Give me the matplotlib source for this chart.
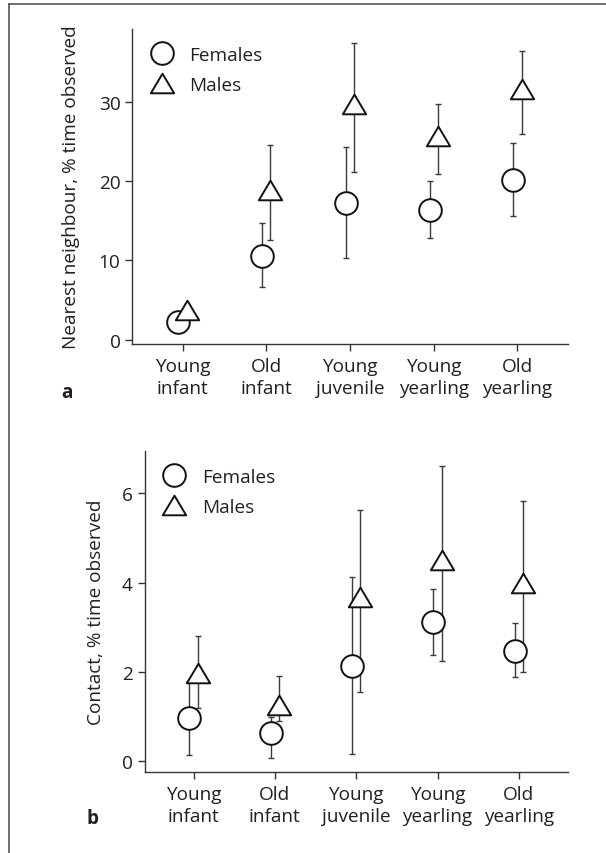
import matplotlib
matplotlib.use("Agg")
import matplotlib.pyplot as plt
from matplotlib.lines import Line2D
from matplotlib.path import Path
import numpy as np

# ---- data ----
categories = ["Young\ninfant", "Old\ninfant", "Young\njuvenile", "Young\nyearling", "Old\nyearling"]

nn_female = [2.2, 10.6, 17.3, 16.4, 20.2]
nn_female_lo = [1.5, 6.6, 10.3, 12.8, 15.6]
nn_female_hi = [2.8, 14.7, 24.3, 20.0, 24.8]
nn_male = [3.8, 18.9, 29.7, 25.7, 31.6]
nn_male_lo = [2.8, 12.6, 21.1, 20.9, 25.9]
nn_male_hi = [4.5, 24.6, 37.4, 29.8, 36.4]

contact_female = [0.98, 0.63, 2.14, 3.11, 2.48]
contact_female_lo = [0.15, 0.07, 0.16, 2.37, 1.88]
contact_female_hi = [1.8, 1.0, 4.13, 3.85, 3.09]
contact_male = [1.98, 1.26, 3.67, 4.50, 4.00]
contact_male_lo = [1.2, 0.9, 1.56, 2.24, 2.01]
contact_male_hi = [2.80, 1.92, 5.63, 6.62, 5.83]

nn_yticks = [0, 10, 20, 30]
contact_yticks = [0, 2, 4, 6]

# ---- style ----
plt.rcParams['font.family'] = ['Open Sans', 'DejaVu Sans']
FS = 13.7
TXT = '#231f20'
AX = '#333333'

tri = Path([(0, 0.84), (-1, -0.84), (1, -0.84), (0, 0.84)],
           [Path.MOVETO, Path.LINETO, Path.LINETO, Path.CLOSEPOLY])

fig = plt.figure(figsize=(6.06, 8.54), dpi=100)

def panel(rect, fem, flo, fhi, mal, mlo, mhi, yticks, ylim, ylabel, label_x, letter, letter_xy):
    ax = fig.add_axes(rect)
    x = np.arange(len(categories))
    off = 0.05
    fem = np.array(fem); mal = np.array(mal)
    ferr = [fem - np.array(flo), np.array(fhi) - fem]
    merr = [mal - np.array(mlo), np.array(mhi) - mal]
    ekw = dict(fmt='none', ecolor='#3a3a3a', elinewidth=1.0, capsize=2.2, capthick=1.0, zorder=1)
    ax.errorbar(x - off, fem, yerr=ferr, **ekw)
    ax.errorbar(x + off, mal, yerr=merr, **ekw)
    hf, = ax.plot(x - off, fem, ls='none', marker='o', ms=16.3, mfc='white', mec='#111111',
                  mew=1.4, zorder=3, label='Females')
    hm, = ax.plot(x + off, mal, ls='none', marker=tri, ms=16.8, mfc='white', mec='#111111',
                  mew=1.4, zorder=4, label='Males')
    ax.set_xlim(-0.6, 4.6)
    ax.set_ylim(*ylim)
    ax.set_xticks(x)
    ax.set_xticklabels(categories, fontsize=FS, color=TXT, linespacing=1.28)
    ax.set_yticks(yticks)
    ax.set_yticklabels([str(t) for t in yticks], fontsize=FS, color=TXT)
    for s in ['top', 'right']:
        ax.spines[s].set_visible(False)
    for s in ['left', 'bottom']:
        ax.spines[s].set_color(AX)
        ax.spines[s].set_linewidth(1.0)
    ax.tick_params(axis='both', direction='out', length=5, width=1.0, color=AX)
    ax.tick_params(axis='x', pad=4.5)
    ax.tick_params(axis='y', pad=3.5)
    ax.set_ylabel(ylabel, fontsize=FS, color=TXT)
    ax.yaxis.set_label_coords(label_x, 0.5)
    leg = ax.legend(handles=[hf, hm], loc='upper left', frameon=False, fontsize=FS,
                    numpoints=1, handlelength=1.3, handletextpad=0.8, borderaxespad=0.5,
                    labelspacing=0.6)
    for t in leg.get_texts():
        t.set_color(TXT)
    fig.text(letter_xy[0], letter_xy[1], letter, fontsize=FS, fontweight='bold', color=TXT,
             ha='center', va='baseline')
    return ax

W, H = 606.0, 854.0
panel([132.3 / W, 1 - 345 / H, (567.7 - 132.3) / W, (345 - 30) / H],
      nn_female, nn_female_lo, nn_female_hi, nn_male, nn_male_lo, nn_male_hi,
      nn_yticks, (-0.54, 39.2), 'Nearest neighbour, % time observed', -0.12,
      'a', (66.7 / W, 1 - 397.7 / H))
panel([144.7 / W, 1 - 772.7 / H, (567.7 - 144.7) / W, (772.7 - 452) / H],
      contact_female, contact_female_lo, contact_female_hi, contact_male, contact_male_lo, contact_male_hi,
      contact_yticks, (-0.233, 6.95), 'Contact, % time observed', -0.093,
      'b', (92.3 / W, 1 - 824 / H))

# figure frame (top and left rules)
fig.add_artist(Line2D([9 / W, 1.0], [1 - 5 / H, 1 - 5 / H], color='#555555', lw=1.2))
fig.add_artist(Line2D([9 / W, 9 / W], [0.0, 1 - 5 / H], color='#555555', lw=1.2))

fig.savefig('out.png', dpi=100)
